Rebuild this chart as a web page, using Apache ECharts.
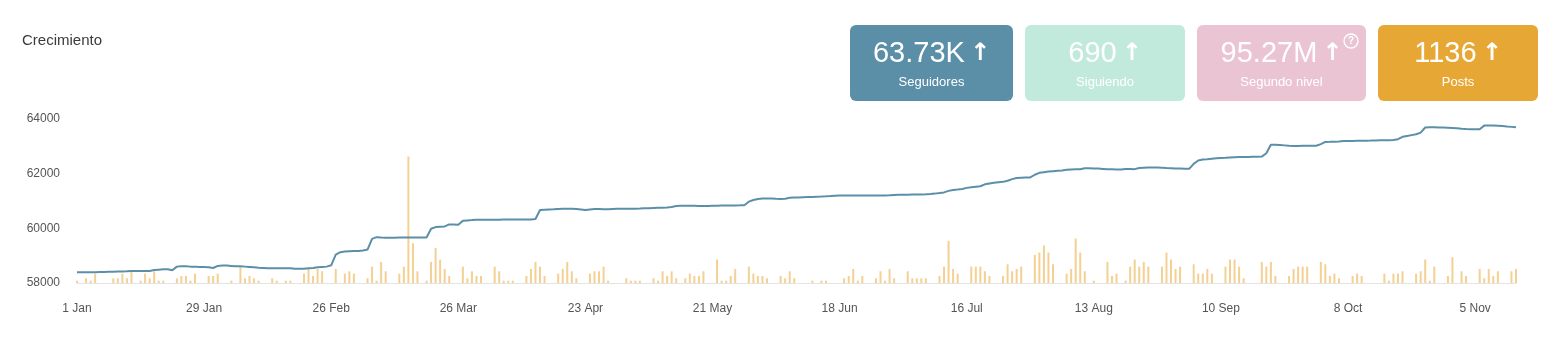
<!DOCTYPE html>
<html lang="es">
<head>
    <meta charset="UTF-8">
    <title>Crecimiento</title>
    <style>
        html, body { margin: 0; padding: 0; background: #fff; }
    </style>
</head>
<body>
<div id="chart" style="width:1558px;height:352px;"></div>

<script src="https://cdn.jsdelivr.net/npm/echarts@6/dist/echarts.min.js"></script>
<script type="text/javascript">

    // first day of the series, one point per day
    var startDate = [2023, 0, 1];
    var monthNames = ['Jan', 'Feb', 'Mar', 'Apr', 'May', 'Jun', 'Jul', 'Aug', 'Sep', 'Oct', 'Nov', 'Dec'];

    // seguidores por dia (14 por fila)
    var followers = [
        58391, 58391, 58391, 58395, 58395, 58400, 58405, 58410, 58415, 58420, 58425, 58432, 58440, 58440,
        58440, 58440, 58440, 58477, 58489, 58501, 58501, 58464, 58599, 58611, 58611, 58599, 58599, 58587,
        58587, 58575, 58550, 58624, 58636, 58636, 58624, 58611, 58611, 58599, 58587, 58575, 58562, 58550,
        58538, 58538, 58538, 58538, 58538, 58538, 58525, 58525, 58525, 58538, 58550, 58575, 58587, 58599,
        58648, 59040, 59126, 59150, 59163, 59175, 59175, 59187, 59224, 59616, 59677, 59665, 59660, 59660,
        59660, 59662, 59662, 59665, 59665, 59665, 59665, 59665, 59984, 60045, 60057, 60069, 60143, 60143,
        60131, 60278, 60290, 60302, 60315, 60315, 60315, 60315, 60315, 60315, 60327, 60327, 60327, 60327,
        60327, 60327, 60327, 60339, 60670, 60682, 60690, 60695, 60707, 60719, 60719, 60715, 60707, 60690,
        60670, 60690, 60707, 60705, 60697, 60700, 60710, 60719, 60719, 60719, 60719, 60719, 60725, 60732,
        60738, 60744, 60750, 60756, 60765, 60780, 60817, 60825, 60830, 60828, 60825, 60820, 60817, 60820,
        60825, 60830, 60832, 60834, 60836, 60838, 60840, 60845, 60975, 61035, 61075, 61087, 61087, 61087,
        61080, 61075, 61085, 61115, 61125, 61130, 61136, 61142, 61148, 61155, 61162, 61170, 61180, 61195,
        61197, 61197, 61197, 61197, 61197, 61197, 61197, 61197, 61197, 61197, 61205, 61212, 61220, 61225,
        61228, 61231, 61234, 61234, 61234, 61244, 61255, 61270, 61290, 61315, 61370, 61400, 61420, 61442,
        61480, 61500, 61520, 61540, 61610, 61640, 61670, 61690, 61700, 61740, 61800, 61840, 61852, 61858,
        61862, 61960, 62030, 62055, 62075, 62090, 62105, 62120, 62140, 62153, 62160, 62165, 62195, 62200,
        62192, 62185, 62175, 62165, 62160, 62155, 62153, 62172, 62170, 62166, 62210, 62218, 62224, 62227,
        62222, 62215, 62205, 62198, 62190, 62185, 62180, 62178, 62360, 62480, 62518, 62530, 62545, 62560,
        62570, 62580, 62592, 62604, 62607, 62610, 62612, 62615, 62618, 62625, 62745, 63060, 63060, 63050,
        63035, 63020, 63011, 63015, 63020, 63023, 63023, 63023, 63080, 63160, 63165, 63172, 63180, 63192,
        63196, 63199, 63202, 63205, 63207, 63210, 63214, 63219, 63222, 63226, 63230, 63260, 63350, 63380,
        63410, 63440, 63500, 63690, 63695, 63695, 63692, 63688, 63682, 63672, 63660, 63640, 63632, 63628,
        63624, 63624, 63758, 63758, 63758, 63752, 63740, 63725, 63712, 63697
    ];

    // posts por dia (28 por fila)
    var posts = [
        1, 0, 2, 1, 4, 0, 0, 0, 2, 2, 4, 2, 5, 0, 1, 4, 2, 5, 1, 1, 0, 0, 2, 3, 3, 1, 4, 0,
        0, 3, 3, 4, 0, 0, 1, 0, 7, 2, 3, 2, 1, 0, 0, 2, 1, 0, 1, 1, 0, 0, 4, 6, 3, 6, 5, 0,
        0, 6, 0, 4, 5, 4, 0, 0, 2, 7, 1, 9, 5, 0, 0, 4, 7, 54, 17, 5, 0, 1, 9, 15, 10, 6, 3, 0,
        0, 7, 2, 5, 3, 3, 0, 0, 7, 5, 1, 1, 1, 0, 0, 3, 6, 9, 7, 3, 0, 0, 4, 6, 9, 5, 2, 0,
        0, 4, 5, 5, 7, 1, 0, 0, 0, 2, 1, 1, 1, 0, 0, 2, 1, 5, 3, 5, 2, 0, 2, 4, 3, 3, 5, 0,
        0, 10, 1, 1, 3, 6, 0, 0, 7, 4, 3, 3, 2, 0, 0, 3, 2, 5, 2, 0, 0, 0, 1, 0, 1, 1, 0, 0,
        0, 2, 3, 6, 1, 3, 0, 0, 2, 5, 1, 6, 2, 0, 0, 5, 2, 2, 2, 2, 0, 0, 3, 7, 18, 6, 4, 0,
        0, 7, 7, 7, 5, 3, 0, 0, 3, 8, 5, 6, 7, 0, 0, 12, 13, 16, 13, 8, 0, 0, 4, 6, 19, 13, 5, 0,
        1, 0, 0, 9, 3, 4, 0, 1, 7, 10, 7, 9, 7, 0, 0, 7, 13, 10, 6, 7, 0, 0, 8, 4, 4, 6, 4, 0,
        0, 7, 10, 10, 7, 2, 0, 0, 0, 9, 7, 9, 3, 0, 0, 3, 6, 7, 7, 7, 0, 0, 9, 8, 3, 4, 2, 0,
        0, 3, 4, 3, 0, 0, 0, 0, 4, 1, 4, 4, 5, 0, 0, 4, 5, 10, 1, 7, 0, 0, 3, 11, 0, 5, 3, 0,
        0, 6, 2, 6, 3, 5, 0, 0, 5, 6
    ];

    // tarjetas de resumen
    var cardValues = ['63.73K', '690', '95.27M', '1136'];
    var cardLabels = ['Seguidores', 'Siguiendo', 'Segundo nivel', 'Posts'];

    var fontName = '"Liberation Sans", Arial, sans-serif';

    var dates = [];
    for (var i = 0; i < followers.length; i++) {
        var d = new Date(startDate[0], startDate[1], startDate[2] + i);
        dates.push(d.getDate() + ' ' + monthNames[d.getMonth()]);
    }

    // card boxes: x, width, colour
    var cardBoxes = [
        {x: 850, w: 163, color: '#5b8fa8'},
        {x: 1025, w: 160, color: '#c2eadc'},
        {x: 1197, w: 169, color: '#ebc4d4'},
        {x: 1378, w: 160, color: '#e6a735'}
    ];

    var graphics = [];
    cardBoxes.forEach(function (c, k) {
        graphics.push({
            type: 'rect',
            shape: {x: c.x, y: 25, width: c.w, height: 76, r: 6},
            style: {fill: c.color},
            z: 10
        });
        graphics.push({
            type: 'text',
            x: c.x + c.w / 2,
            y: 54,
            style: {
                text: '{n|' + cardValues[k] + '}{a|↑}',
                align: 'center',
                verticalAlign: 'middle',
                rich: {
                    n: {fontSize: 29, fill: '#fff', fontFamily: fontName},
                    a: {fontSize: 24, fill: '#fff', fontWeight: 'bold', fontFamily: 'DejaVu Sans', padding: [0, 0, 0, 5]}
                }
            },
            z: 11
        });
        graphics.push({
            type: 'text',
            x: c.x + c.w / 2,
            y: 82,
            style: {
                text: cardLabels[k],
                align: 'center',
                verticalAlign: 'middle',
                fontSize: 13,
                fill: '#fff',
                fontFamily: fontName
            },
            z: 11
        });
    });
    // help icon on "Segundo nivel"
    graphics.push({
        type: 'circle',
        shape: {cx: 1351, cy: 41, r: 7},
        style: {fill: 'none', stroke: '#fff', lineWidth: 1.3},
        z: 11
    });
    graphics.push({
        type: 'text',
        x: 1351,
        y: 41.5,
        style: {text: '?', align: 'center', verticalAlign: 'middle', fontSize: 10, fontWeight: 'bold', fill: '#fff', fontFamily: fontName},
        z: 11
    });

    var myChart = echarts.init(document.getElementById('chart'));

    var option = {
        animation: false,
        title: {
            text: 'Crecimiento',
            left: 17,
            top: 28,
            textStyle: {fontSize: 15, fontWeight: 'normal', color: '#3a3a3a', fontFamily: fontName}
        },
        grid: {left: 77, right: 42, top: 119, bottom: 69},
        xAxis: {
            type: 'category',
            data: dates,
            boundaryGap: false,
            axisTick: {show: false},
            axisLine: {lineStyle: {color: '#e3e3e3', width: 1}},
            axisLabel: {interval: 27, color: '#555', fontSize: 12, margin: 20, fontFamily: fontName}
        },
        yAxis: [
            {
                type: 'value',
                min: 58000,
                max: 64000,
                interval: 2000,
                splitLine: {show: false},
                axisLabel: {
                    color: '#555', fontSize: 12, margin: 17, fontFamily: fontName,
                    formatter: function (v) { return String(v); }
                }
            },
            {type: 'value', min: 0, max: 70, show: false}
        ],
        series: [
            {
                name: 'Posts',
                type: 'bar',
                yAxisIndex: 1,
                data: posts,
                barWidth: 2,
                itemStyle: {color: '#f4d092'}
            },
            {
                name: 'Seguidores',
                type: 'line',
                data: followers,
                showSymbol: false,
                lineStyle: {color: '#5b8fa8', width: 2},
                z: 3
            }
        ],
        graphic: graphics
    };

    myChart.setOption(option);
</script>

</body>
</html>
